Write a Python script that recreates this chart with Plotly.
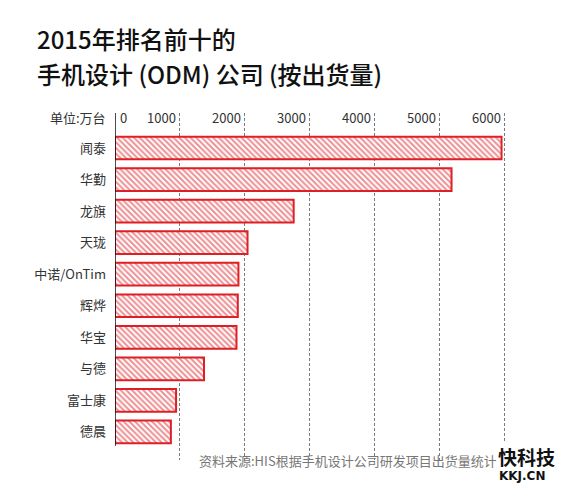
import plotly.graph_objects as go

categories = ["闻泰", "华勤", "龙旗", "天珑", "中诺/OnTim", "辉烨", "华宝", "与德", "富士康", "德晨"]
shipments = [5950, 5180, 2750, 2040, 1900, 1890, 1870, 1370, 940, 860]
tick_values = [0, 1000, 2000, 3000, 4000, 5000, 6000]
tick_labels = ["0", "1000", "2000", "3000", "4000", "5000", "6000"]
unit_label = "单位:万台"
title_line1 = "2015年排名前十的"
title_line2 = "手机设计 (ODM) 公司 (按出货量)"
source_text = "资料来源:HIS根据手机设计公司研发项目出货量统计"

RED = "#dd1f26"
FONT = "Noto Sans CJK SC"

fig = go.Figure()
fig.add_trace(go.Bar(
    y=categories, x=shipments, orientation="h", width=0.72,
    marker=dict(color="white", line=dict(color=RED, width=2),
                pattern=dict(shape="\\", fgcolor=RED, bgcolor="white", size=4, solidity=0.5)),
    hoverinfo="skip",
))

W, H = 563, 491
ml, mr, mt, mb = 115, 53, 113, 31
fig.update_layout(
    width=W, height=H, margin=dict(l=ml, r=mr, t=mt, b=mb, autoexpand=False),
    paper_bgcolor="white", plot_bgcolor="white", showlegend=False,
    font=dict(family=FONT, size=13, color="#333333"),
    xaxis=dict(range=[0, 6080], tickvals=tick_values[1:], showticklabels=False,
               showgrid=True, gridcolor="#7a7a7a", griddash="3px,2px", gridwidth=1,
               zeroline=False, showline=False, ticks="", automargin=False),
    yaxis=dict(type="category", range=[9.89, -1.11], showgrid=False, zeroline=False,
               showline=False, ticks="", ticklabelstandoff=8, automargin=False,
               tickfont=dict(family=FONT, size=13, color="#333333")),
)

# axis line at zero
fig.add_shape(type="line", xref="x", yref="y", x0=0, x1=0, y0=-1.11, y1=9.45,
              line=dict(color="#111111", width=1.5))

# top tick labels
for v, t in zip(tick_values, tick_labels):
    fig.add_annotation(x=v, y=-0.97, xref="x", yref="y", text=t, showarrow=False,
                       xanchor="left" if v == 0 else "right", xshift=3 if v == 0 else -2,
                       font=dict(family=FONT, size=13, color="#333333"))
fig.add_annotation(x=0, y=-0.97, xref="x", yref="y", text=unit_label, showarrow=False,
                   xanchor="right", xshift=-7, font=dict(family=FONT, size=13, color="#333333"))

# title
fig.add_annotation(x=35, y=H - 38, xref="paper", yref="paper", text=title_line1,
                   showarrow=False, xanchor="left", yanchor="middle",
                   font=dict(family=FONT, size=24, color="#111111", weight=500))
fig.add_annotation(x=35, y=H - 73, xref="paper", yref="paper", text=title_line2,
                   showarrow=False, xanchor="left", yanchor="middle",
                   font=dict(family=FONT, size=24, color="#111111", weight=500))

# source
fig.add_annotation(x=197, y=H - 460, xref="paper", yref="paper", text=source_text,
                   showarrow=False, xanchor="left", yanchor="middle",
                   font=dict(family=FONT, size=13, color="#777777"))
# logo text
fig.add_annotation(x=496, y=H - 456, xref="paper", yref="paper", text="<b>快科技</b>",
                   showarrow=False, xanchor="left", yanchor="middle", bgcolor="white",
                   font=dict(family=FONT, size=19, color="#111111"))
fig.add_annotation(x=497, y=H - 476, xref="paper", yref="paper", text="<b>KKJ.CN</b>",
                   showarrow=False, xanchor="left", yanchor="middle",
                   font=dict(family="DejaVu Sans", size=12, color="#111111"))

# convert paper coords given in pixels
for a in fig.layout.annotations:
    if a.xref == "paper":
        a.x = (a.x - ml) / (W - ml - mr)
        a.y = (a.y - mb) / (H - mt - mb)

fig.write_html("out.html", config={"displayModeBar": False},
               post_script="document.body.style.margin='0';document.body.style.overflow='hidden';")
